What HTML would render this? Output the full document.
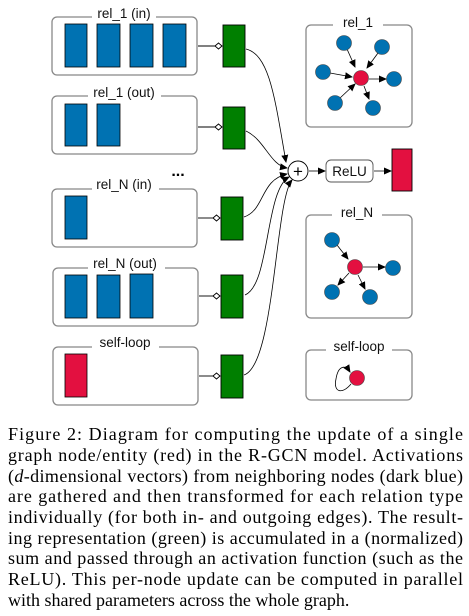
<!DOCTYPE html>
<html><head><meta charset="utf-8"><style>
html,body{margin:0;padding:0;background:#fff;width:469px;height:616px;overflow:hidden}
svg{display:block}
.lbl{font-family:"Liberation Sans",Arial,sans-serif;font-size:13.5px;fill:#111}
</style></head><body>
<svg width="469" height="616" viewBox="0 0 469 616">
<defs>
<marker id="ar" markerWidth="8" markerHeight="8" refX="7" refY="4" orient="auto" markerUnits="userSpaceOnUse"><path d="M0,0.5 L8,4 L0,7.5 Z" fill="#000"/></marker>
</defs>
<g fill="none" stroke="#888" stroke-width="1.3">
<rect x="52" y="17" width="145" height="58" rx="5"/>
<rect x="52" y="96" width="145" height="58" rx="5"/>
<rect x="52" y="189" width="145" height="58" rx="5"/>
<rect x="53" y="268" width="145" height="58" rx="5"/>
<rect x="53" y="347" width="145" height="58" rx="5"/>
<rect x="306" y="25" width="106" height="102" rx="5"/>
<rect x="306" y="215" width="106" height="103" rx="5"/>
<rect x="306" y="350" width="106" height="50" rx="5"/>
</g>
<g fill="#fff">
<rect x="92" y="8" width="64" height="14"/><rect x="88" y="87" width="73" height="14"/>
<rect x="92" y="180" width="67" height="14"/><rect x="88" y="259" width="77" height="14"/>
<rect x="92" y="338" width="67" height="14"/><rect x="333" y="16" width="50" height="14"/>
<rect x="332" y="206" width="50" height="14"/><rect x="326" y="341" width="66" height="14"/>
</g>
<text class="lbl" x="124" y="18" text-anchor="middle">rel_1 (in)</text>
<text class="lbl" x="124" y="97" text-anchor="middle">rel_1 (out)</text>
<text class="lbl" x="124" y="189" text-anchor="middle">rel_N (in)</text>
<text class="lbl" x="125" y="268" text-anchor="middle">rel_N (out)</text>
<text class="lbl" x="125" y="347" text-anchor="middle">self-loop</text>
<text class="lbl" x="358" y="27" text-anchor="middle">rel_1</text>
<text class="lbl" x="357" y="217" text-anchor="middle">rel_N</text>
<text class="lbl" x="359" y="351" text-anchor="middle">self-loop</text>
<text x="178" y="176" font-family="Liberation Sans,sans-serif" font-size="16" font-weight="bold" text-anchor="middle">...</text>
<g fill="#0072b2" stroke="#000" stroke-width="0.8">
<rect x="65" y="24" width="22" height="43"/><rect x="97" y="24" width="23" height="43"/><rect x="130" y="24" width="23" height="43"/><rect x="163" y="24" width="23" height="43"/>
<rect x="65" y="104" width="22" height="42"/><rect x="97" y="104" width="23" height="42"/>
<rect x="65" y="196" width="22" height="43"/>
<rect x="65" y="275" width="22" height="43"/><rect x="97" y="275" width="23" height="43"/><rect x="130" y="274" width="23" height="44"/>
</g>
<rect x="65" y="354" width="22" height="43" fill="#e31040" stroke="#000" stroke-width="0.8"/>
<g stroke="#000" stroke-width="0.9" fill="#fff">
<line x1="198" y1="46" x2="215" y2="46"/><path d="M215,46 l3.5,-3 l3.5,3 l-3.5,3 z"/>
<line x1="198" y1="127" x2="215" y2="127"/><path d="M215,127 l3.5,-3 l3.5,3 l-3.5,3 z"/>
<line x1="198" y1="218" x2="213" y2="218"/><path d="M213,218 l3.5,-3 l3.5,3 l-3.5,3 z"/>
<line x1="199" y1="296" x2="213" y2="296"/><path d="M213,296 l3.5,-3 l3.5,3 l-3.5,3 z"/>
<line x1="199" y1="376" x2="213" y2="376"/><path d="M213,376 l3.5,-3 l3.5,3 l-3.5,3 z"/>
</g>
<g fill="#007f00" stroke="#000" stroke-width="0.9">
<rect x="223" y="25" width="22" height="42"/><rect x="223" y="107" width="22" height="42"/>
<rect x="221" y="197" width="22" height="43"/><rect x="221" y="275" width="22" height="43"/><rect x="221" y="355" width="22" height="43"/>
</g>
<g fill="none" stroke="#000" stroke-width="0.8" marker-end="url(#ar)">
<path d="M246,49 C270,55 275,100 286,162"/>
<path d="M246,131 C265,140 270,165 287,168"/>
<path d="M244,217 C265,210 260,180 287,174"/>
<path d="M245,295 C270,285 265,190 289,177"/>
<path d="M244,375 C275,365 275,200 292,180"/>
<line x1="309" y1="171" x2="325" y2="171"/>
<line x1="374" y1="171" x2="391" y2="171"/>
</g>
<circle cx="298" cy="171" r="10" fill="#fff" stroke="#000" stroke-width="0.9"/>
<text x="298" y="177" font-family="Liberation Sans,sans-serif" font-size="17" text-anchor="middle">+</text>
<rect x="326" y="160" width="47" height="22" rx="5" fill="#fff" stroke="#555" stroke-width="0.9"/>
<text class="lbl" x="349.5" y="176" text-anchor="middle" font-size="14">ReLU</text>
<rect x="392" y="149" width="20" height="42" fill="#e31040" stroke="#000" stroke-width="0.9"/>
<g stroke="#000" stroke-width="0.8" marker-end="url(#ar)">
<line x1="347" y1="49" x2="355" y2="67"/><line x1="378" y1="53" x2="367" y2="68"/>
<line x1="330" y1="73" x2="352" y2="77"/><line x1="369" y1="79" x2="386" y2="79"/>
<line x1="340" y1="98" x2="355" y2="84"/><line x1="364" y1="86" x2="369" y2="99"/>
<line x1="337" y1="245" x2="348" y2="259"/><line x1="363" y1="267" x2="385" y2="267"/>
<line x1="349" y1="273" x2="338" y2="285"/><line x1="358" y1="275" x2="365" y2="289"/>
</g>
<path d="M351,384 C342,395 333,392 336,379 C338,366 345,364 350,372" fill="none" stroke="#000" stroke-width="0.8" marker-end="url(#ar)"/>
<g fill="#0072b2" stroke="#444" stroke-width="0.6">
<circle cx="344" cy="43" r="7.5"/><circle cx="382" cy="47" r="7.5"/><circle cx="323" cy="72" r="7.5"/>
<circle cx="394" cy="79" r="7.5"/><circle cx="335" cy="103" r="7.5"/><circle cx="373" cy="108" r="7.5"/>
<circle cx="332" cy="240" r="7.5"/><circle cx="393" cy="268" r="7.5"/><circle cx="332" cy="292" r="7.5"/><circle cx="370" cy="297" r="7.5"/>
</g>
<g fill="#e31040" stroke="#444" stroke-width="0.6">
<circle cx="361" cy="78" r="7.5"/><circle cx="355" cy="267" r="7.5"/><circle cx="357" cy="378" r="7.5"/>
</g>
<g font-family="Liberation Serif, Times New Roman, serif" font-size="18" fill="#000">
<text x="8" y="440" textLength="455" lengthAdjust="spacing">Figure 2: Diagram for computing the update of a single</text>
<text x="8" y="461" textLength="455" lengthAdjust="spacing">graph node/entity (red) in the R-GCN model. Activations</text>
<text x="8" y="482" textLength="455" lengthAdjust="spacing">(<tspan font-style="italic">d</tspan>-dimensional vectors) from neighboring nodes (dark blue)</text>
<text x="8" y="502" textLength="455" lengthAdjust="spacing">are gathered and then transformed for each relation type</text>
<text x="8" y="523" textLength="455" lengthAdjust="spacing">individually (for both in- and outgoing edges). The result-</text>
<text x="8" y="544" textLength="455" lengthAdjust="spacing">ing representation (green) is accumulated in a (normalized)</text>
<text x="8" y="564" textLength="455" lengthAdjust="spacing">sum and passed through an activation function (such as the</text>
<text x="8" y="585" textLength="455" lengthAdjust="spacing">ReLU). This per-node update can be computed in parallel</text>
<text x="8" y="606">with shared parameters across the whole graph.</text>
</g>
</svg>
</body></html>
